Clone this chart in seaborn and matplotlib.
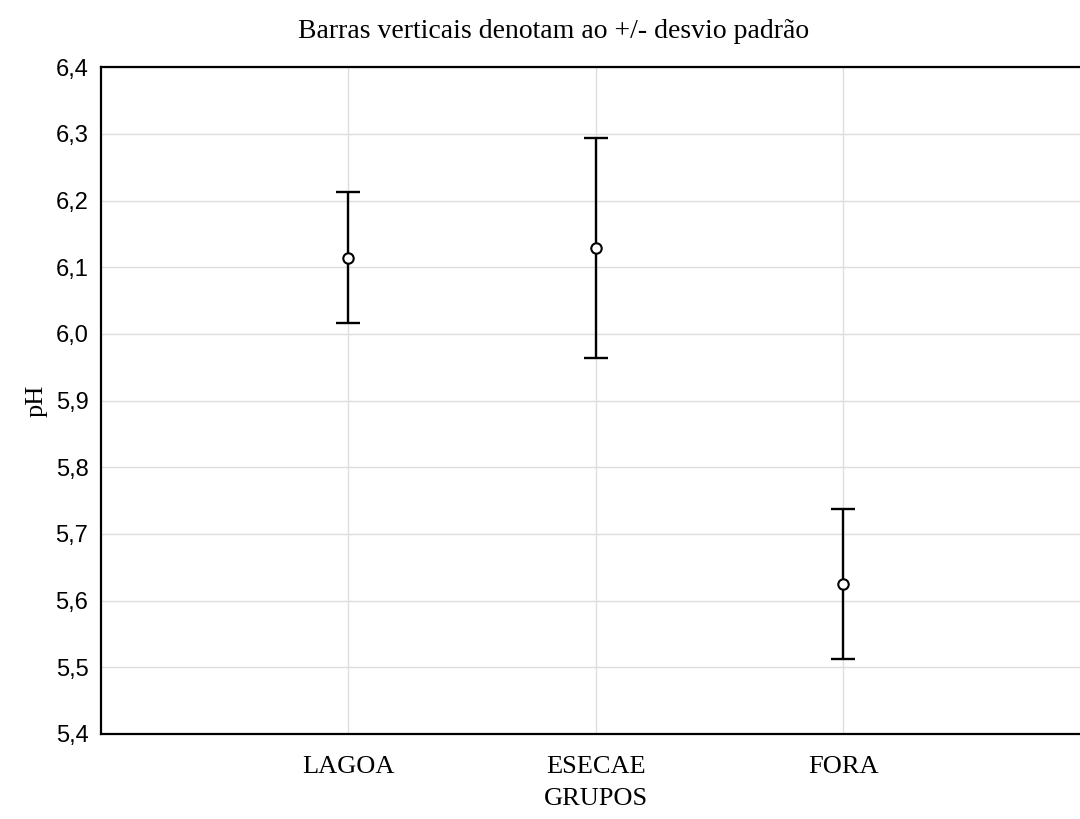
import matplotlib
matplotlib.use("Agg")
import matplotlib.pyplot as plt
import seaborn as sns
import pandas as pd
from matplotlib.ticker import FuncFormatter, MultipleLocator

# group means and standard deviations of pH
grupos = ["LAGOA", "ESECAE", "FORA"]
media = [6.1145, 6.1295, 5.6245]
desvio = [0.098, 0.165, 0.1125]

df = pd.DataFrame({"GRUPOS": grupos, "pH": media})

sns.set_style("white")
plt.rcParams["font.family"] = ["Liberation Serif", "DejaVu Serif"]
plt.rcParams.update({"text.color": "black", "axes.labelcolor": "black",
                     "xtick.color": "black", "ytick.color": "black"})

fig = plt.figure(figsize=(10.8, 8.19), dpi=100)
ax = fig.add_axes([0.0935, 0.1038, 0.9065, 0.8142])

# vertical bars: mean +/- sd
ax.errorbar(range(len(grupos)), media, yerr=desvio, fmt="none",
            ecolor="black", elinewidth=1.7, capsize=8.5, capthick=1.7, zorder=3)
sns.pointplot(data=df, x="GRUPOS", y="pH", errorbar=None, linestyle="none",
              marker="o", markersize=7.5, markerfacecolor="white",
              markeredgecolor="black", markeredgewidth=1.5, color="black",
              ax=ax, zorder=4)

ax.set_xlim(-1, 2.958)
ax.set_ylim(5.4, 6.4)
ax.yaxis.set_major_locator(MultipleLocator(0.1))
ax.yaxis.set_major_formatter(FuncFormatter(lambda v, p: f"{v:.1f}".replace(".", ",")))

ax.grid(True, color="#dddddd", linewidth=1)
ax.set_axisbelow(True)
for s in ["left", "bottom", "top"]:
    ax.spines[s].set_color("black")
    ax.spines[s].set_linewidth(1.6)
ax.spines["right"].set_visible(False)

ax.tick_params(axis="both", direction="in", length=4, width=1.2, color="black")
ax.tick_params(axis="x", labelsize=19, pad=16)
ax.tick_params(axis="y", pad=9)
for lab in ax.get_yticklabels():
    lab.set_family("Liberation Sans")
    lab.set_fontsize(17)

ax.set_title("Barras verticais denotam ao +/- desvio padrão", fontsize=20, pad=21, x=0.462)
ax.set_xlabel("GRUPOS", fontsize=19, labelpad=7, x=0.506)
ax.set_ylabel("pH", fontsize=19, labelpad=6)

fig.savefig("out.png", dpi=100)
